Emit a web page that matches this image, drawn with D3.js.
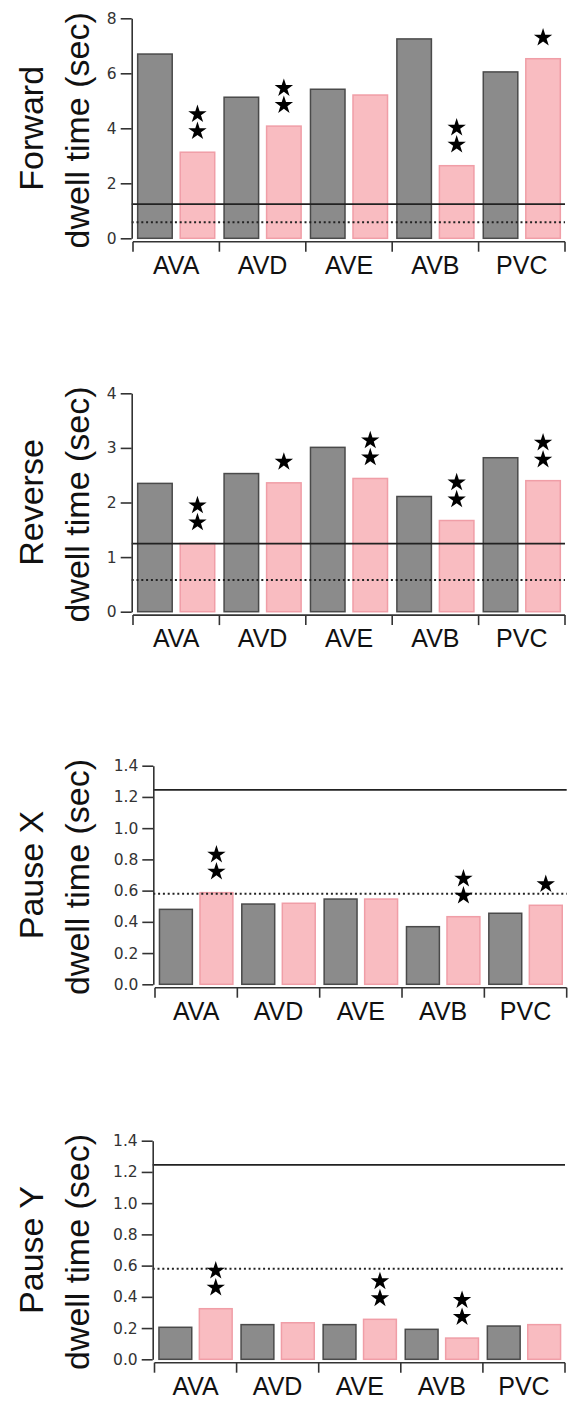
<!DOCTYPE html>
<html>
<head>
    <meta charset="utf-8">
    <title>Dwell time by neuron</title>
    <style>
        body { margin: 0; background: white; }
        svg { display: block; }
    </style>
    <script src="https://cdnjs.cloudflare.com/ajax/libs/d3/7.8.5/d3.min.js"></script>
</head>
<body>
    <script>
        const width = 580
        const height = 1404

        const neurons = ["AVA", "AVD", "AVE", "AVB", "PVC"]
        const groups = ["control", "ablated"]

        const forwardControl = [6.70, 5.13, 5.42, 7.25, 6.05]
        const forwardAblated = [3.13, 4.08, 5.21, 2.64, 6.53]
        const forwardStars = [2, 2, 0, 2, 1]

        const reverseControl = [2.35, 2.53, 3.01, 2.11, 2.82]
        const reverseAblated = [1.25, 2.36, 2.44, 1.67, 2.40]
        const reverseStars = [2, 1, 2, 2, 2]

        const pauseXControl = [0.480, 0.514, 0.546, 0.369, 0.455]
        const pauseXAblated = [0.587, 0.519, 0.546, 0.433, 0.506]
        const pauseXStars = [2, 0, 0, 2, 1]

        const pauseYControl = [0.205, 0.222, 0.222, 0.192, 0.213]
        const pauseYAblated = [0.324, 0.234, 0.256, 0.136, 0.222]
        const pauseYStars = [2, 0, 2, 2, 0]

        const forwardTicks = [0, 2, 4, 6, 8]
        const reverseTicks = [0, 1, 2, 3, 4]
        const pauseTicks = [0, 0.2, 0.4, 0.6, 0.8, 1.0, 1.2, 1.4]

        // reference levels drawn across every panel
        const solidLevel = 1.245
        const dottedLevel = 0.58

        const panels = [
            {title: "Forward", control: forwardControl, ablated: forwardAblated, stars: forwardStars,
             ticks: forwardTicks, fmt: d3.format("d"), axisX: 131.7, left: 133, right: 565, top: 18.3, bottom: 238.3},
            {title: "Reverse", control: reverseControl, ablated: reverseAblated, stars: reverseStars,
             ticks: reverseTicks, fmt: d3.format("d"), axisX: 131.7, left: 133, right: 565, top: 393.3, bottom: 611.7},
            {title: "Pause X", control: pauseXControl, ablated: pauseXAblated, stars: pauseXStars,
             ticks: pauseTicks, fmt: d3.format(".1f"), axisX: 153.3, left: 155, right: 566.7, top: 765.7, bottom: 984.3},
            {title: "Pause Y", control: pauseYControl, ablated: pauseYAblated, stars: pauseYStars,
             ticks: pauseTicks, fmt: d3.format(".1f"), axisX: 152.7, left: 154.5, right: 565, top: 1140.7, bottom: 1359.3}
        ]

        const colors = {
            control: {fill: "#8b8b8b", stroke: "#4a4a4a"},
            ablated: {fill: "#f9bcc1", stroke: "#f09ea7"}
        }

        let svg = d3.select("body").append("svg")
            .attr("width", width)
            .attr("height", height)

        panels.forEach(p => {
            let g = svg.append("g")

            let y = d3.scaleLinear()
                .domain([0, d3.max(p.ticks)])
                .range([p.bottom, p.top])
            let x = d3.scaleBand()
                .domain(neurons)
                .range([p.left, p.right])
            let xs = d3.scaleBand()
                .domain(groups)
                .range([0, x.bandwidth()])
                .paddingInner(0.188)
                .paddingOuter(0.11)

            let rows = neurons.map((n, i) => ({name: n, control: p.control[i], ablated: p.ablated[i], stars: p.stars[i]}))

            // bars
            rows.forEach(r => {
                groups.forEach(k => {
                    g.append("rect")
                        .attr("x", x(r.name) + xs(k))
                        .attr("y", y(r[k]))
                        .attr("width", xs.bandwidth())
                        .attr("height", y(0) - y(r[k]))
                        .attr("fill", colors[k].fill)
                        .attr("stroke", colors[k].stroke)
                        .attr("stroke-width", 1.5)
                })
            })

            // reference lines
            g.append("line")
                .attr("x1", p.axisX).attr("x2", p.right)
                .attr("y1", y(solidLevel)).attr("y2", y(solidLevel))
                .attr("stroke", "#222")
                .attr("stroke-width", 1.8)
            g.append("line")
                .attr("x1", p.axisX).attr("x2", p.right)
                .attr("y1", y(dottedLevel)).attr("y2", y(dottedLevel))
                .attr("stroke", "#222")
                .attr("stroke-width", 2)
                .attr("stroke-dasharray", "2,2.8")

            // significance stars above ablated bars
            let star = d3.symbol().type(d3.symbolStar).size(105)
            rows.forEach(r => {
                d3.range(r.stars).forEach(s => {
                    g.append("path")
                        .attr("d", star())
                        .attr("transform", `translate(${x(r.name) + xs("ablated") + xs.bandwidth() / 2}, ${y(r.ablated) - 21 - s * 17})`)
                        .attr("fill", "black")
                })
            })

            // y axis
            let yAxis = g.append("g")
                .attr("transform", `translate(${p.axisX}, 0)`)
                .call(d3.axisLeft(y).tickValues(p.ticks).tickFormat(p.fmt).tickSize(11).tickSizeOuter(0).tickPadding(4))
            yAxis.select(".domain").attr("stroke", "#333").attr("stroke-width", 1.6)
            yAxis.selectAll(".tick line").attr("stroke", "#333").attr("stroke-width", 1.6)
            yAxis.selectAll(".tick text")
                .attr("fill", "#333")
                .style("font-family", "DejaVu Sans")
                .style("font-size", "15.5px")

            // x axis, ticks on the category boundaries
            let base = y(0) + 3.4
            g.append("line")
                .attr("x1", p.left).attr("x2", p.right)
                .attr("y1", base).attr("y2", base)
                .attr("stroke", "#333")
                .attr("stroke-width", 1.6)
            let bounds = neurons.map(n => x(n)).concat([x.range()[1]])
            g.selectAll(".xtick")
                .data(bounds)
                .enter()
                .append("line")
                    .attr("class", "xtick")
                    .attr("x1", d => d).attr("x2", d => d)
                    .attr("y1", base).attr("y2", base + 10)
                    .attr("stroke", "#333")
                    .attr("stroke-width", 1.6)
            g.selectAll(".xlabel")
                .data(neurons)
                .enter()
                .append("text")
                    .attr("class", "xlabel")
                    .attr("x", d => x(d) + x.bandwidth() / 2)
                    .attr("y", base + 32)
                    .attr("text-anchor", "middle")
                    .style("font-family", "Liberation Sans, Arial, sans-serif")
                    .style("font-size", "25px")
                    .attr("fill", "#111")
                    .text(d => d)

            // y title in two lines
            let cy = (p.top + p.bottom) / 2
            g.append("text")
                .attr("transform", `translate(43, ${cy}) rotate(-90)`)
                .attr("text-anchor", "middle")
                .style("font-family", "Liberation Sans, Arial, sans-serif")
                .style("font-size", "34px")
                .attr("fill", "#111")
                .text(p.title)
            g.append("text")
                .attr("transform", `translate(89, ${cy + 2}) rotate(-90)`)
                .attr("text-anchor", "middle")
                .style("font-family", "Liberation Sans, Arial, sans-serif")
                .style("font-size", "34px")
                .attr("fill", "#111")
                .text("dwell time (sec)")
        })
    </script>
</body>
</html>
